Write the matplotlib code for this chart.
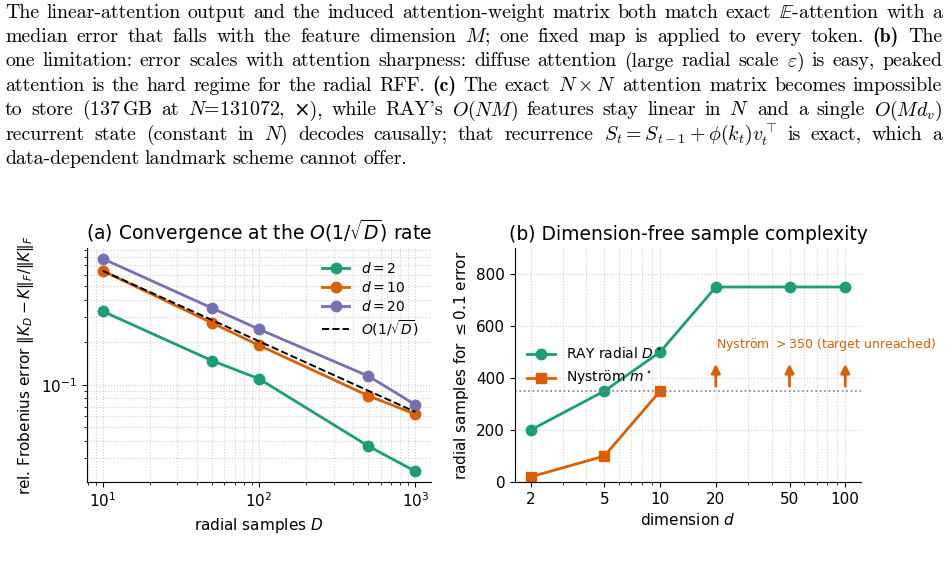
import matplotlib
matplotlib.use("Agg")
import matplotlib.pyplot as plt
from matplotlib.ticker import NullFormatter, FixedLocator, FixedFormatter

# ---- panel (a): convergence ----
D_vals = [10, 50, 100, 500, 1000]
err_d2 = [0.331, 0.148, 0.110, 0.0367, 0.0243]
err_d10 = [0.641, 0.274, 0.190, 0.0834, 0.0618]
err_d20 = [0.781, 0.349, 0.247, 0.115, 0.072]
ref_err = [0.641, 0.287, 0.203, 0.0906, 0.0641]

# ---- panel (b): sample complexity ----
dims = [2, 5, 10, 20, 50, 100]
ray_D = [200, 350, 500, 750, 750, 750]
nys_dims = [2, 5, 10]
nys_m = [20, 100, 350]
unreached_dims = [20, 50, 100]
target = 350

green = "#1b9e77"
orange = "#d95f02"
purple = "#7570b3"

caption = [
    "The linear-attention output and the induced attention-weight matrix both match exact "
    "$\\mathbb{E}$-attention with a",
    "median error that falls with the feature dimension $M$; one fixed map is applied to every token. (b) The",
    "one limitation: error scales with attention sharpness: diffuse attention (large radial scale "
    "$\\varepsilon$) is easy, peaked",
    "attention is the hard regime for the radial RFF. (c) The exact $N\\times{}N$ attention matrix becomes impossible",
    "to store (137$\\,$GB at $N$=131072, \u00d7), while RAY's $O(NM)$ features stay linear in $N$ "
    "and a single $O(Md_v)$",
    "recurrent state (constant in $N$) decodes causally; that recurrence "
    "$S_t=S_{t-1}+\\phi(k_t)v_t^\\top$ is exact, which a",
    "data-dependent landmark scheme cannot offer.",
]

W, H = 948, 572
fig = plt.figure(figsize=(W / 100, H / 100), dpi=100)

ax1 = fig.add_axes([0.0918, 0.1573, 0.3629, 0.4091])
ax2 = fig.add_axes([0.5432, 0.1573, 0.3650, 0.4091])

# panel (a)
ax1.plot(D_vals, err_d2, "-o", color=green, lw=2, ms=7.5, label="$d=2$")
ax1.plot(D_vals, err_d10, "-o", color=orange, lw=2, ms=7.5, label="$d=10$")
ax1.plot(D_vals, err_d20, "-o", color=purple, lw=2, ms=7.5, label="$d=20$")
ax1.plot(D_vals, ref_err, "--", color="black", lw=1.4, label="$O(1/\\sqrt{D})$")
ax1.set_xscale("log")
ax1.set_yscale("log")
ax1.grid(True, which="both", ls=":", lw=0.8, color="#d0d0d0")
ax1.set_xlabel("radial samples $D$", fontsize=11)
ax1.set_ylabel("rel. Frobenius error $\\|K_D - K\\|_F/\\|K\\|_F$", fontsize=11)
ax1.set_title("(a) Convergence at the $O(1/\\sqrt{D})$ rate", fontsize=13.5)
ax1.tick_params(labelsize=11)
ax1.legend(loc="upper right", frameon=False, fontsize=10, labelspacing=0.3)

# panel (b)
ax2.plot(dims, ray_D, "-o", color=green, lw=2, ms=7.5, label="RAY radial $D^\\star$")
ax2.plot(nys_dims, nys_m, "-s", color=orange, lw=2, ms=7.5, label="Nystr\u00f6m $m^\\star$")
ax2.axhline(target, color="grey", ls=":", lw=1.2)
for d in unreached_dims:
    ax2.annotate("", xy=(d, 465), xytext=(d, 358),
                 arrowprops=dict(arrowstyle="-|>", color=orange, lw=2, mutation_scale=13))
ax2.text(unreached_dims[0], 530, "Nystr\u00f6m $>$350 (target unreached)", color=orange,
         fontsize=9, ha="left", va="center")
ax2.set_xscale("log")
ax2.xaxis.set_major_locator(FixedLocator(dims))
ax2.xaxis.set_major_formatter(FixedFormatter([str(d) for d in dims]))
ax2.xaxis.set_minor_formatter(NullFormatter())
ax2.set_ylim(0, 900)
ax2.set_yticks([0, 200, 400, 600, 800])
ax2.grid(True, which="both", ls=":", lw=0.8, color="#d0d0d0")
ax2.set_xlabel("dimension $d$", fontsize=11)
ax2.set_ylabel("radial samples for $\\leq0.1$ error", fontsize=11)
ax2.set_title("(b) Dimension-free sample complexity", fontsize=13.5)
ax2.tick_params(labelsize=11)
ax2.legend(loc="upper left", bbox_to_anchor=(0.0, 0.63), frameon=False, fontsize=10)

for ax in (ax1, ax2):
    ax.spines["top"].set_visible(False)
    ax.spines["right"].set_visible(False)

# ---- caption paragraph, justified ----
renderer = fig.canvas.get_renderer()
x_left, x_right = 5, 942
baselines = [17.5, 42, 66.5, 91, 115.5, 140, 164]
for i, line in enumerate(caption):
    words = line.split(" ")
    texts = []
    for w in words:
        bold = w in ("(b)", "(c)")
        t = fig.text(0, 1 - baselines[i] / H, w, fontsize=14.3, va="baseline",
                     family=["cmb10" if bold else "cmr10", "DejaVu Serif"],
                     math_fontfamily="cm")
        texts.append(t)
    widths = [t.get_window_extent(renderer).width for t in texts]
    if i < len(caption) - 1:
        gap = (x_right - x_left - sum(widths)) / (len(words) - 1)
    else:
        gap = 5.5
    x = x_left
    for t, w in zip(texts, widths):
        t.set_x(x / W)
        x += w + gap

fig.savefig("out.png", dpi=100)
